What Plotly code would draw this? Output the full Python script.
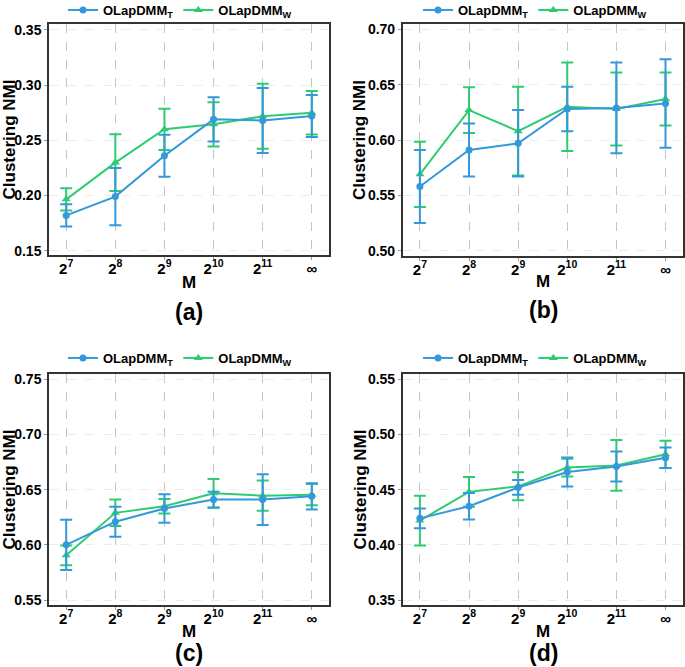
import plotly.graph_objects as go

W, H = 685, 667

# ---------------- data ----------------
x_labels = ["2<sup>7</sup>", "2<sup>8</sup>", "2<sup>9</sup>", "2<sup>10</sup>", "2<sup>11</sup>", "∞"]
x_pos = [0, 1, 2, 3, 4, 5]

series_names = ["OLapDMM<sub>T</sub>", "OLapDMM<sub>W</sub>"]

a_T_mean = [0.182, 0.199, 0.236, 0.269, 0.268, 0.272]
a_T_sd = [0.010, 0.026, 0.019, 0.020, 0.0295, 0.019]
a_W_mean = [0.1965, 0.2298, 0.260, 0.2645, 0.2718, 0.275]
a_W_sd = [0.010, 0.0258, 0.0187, 0.020, 0.0295, 0.0197]

b_T_mean = [0.558, 0.591, 0.597, 0.628, 0.629, 0.633]
b_T_sd = [0.033, 0.024, 0.030, 0.020, 0.041, 0.040]
b_W_mean = [0.569, 0.627, 0.608, 0.630, 0.628, 0.637]
b_W_sd = [0.0295, 0.0207, 0.040, 0.040, 0.033, 0.024]

c_T_mean = [0.600, 0.621, 0.633, 0.641, 0.641, 0.644]
c_T_sd = [0.0228, 0.0136, 0.0129, 0.0072, 0.023, 0.0119]
c_W_mean = [0.5905, 0.629, 0.635, 0.6467, 0.6446, 0.6455]
c_W_sd = [0.009, 0.012, 0.0065, 0.013, 0.0137, 0.0097]

d_T_mean = [0.424, 0.435, 0.452, 0.466, 0.471, 0.479]
d_T_sd = [0.009, 0.012, 0.0067, 0.0131, 0.0135, 0.0093]
d_W_mean = [0.422, 0.448, 0.453, 0.470, 0.472, 0.482]
d_W_sd = [0.0225, 0.0134, 0.0127, 0.008, 0.023, 0.0123]

y_ticks_a = [0.15, 0.20, 0.25, 0.30, 0.35]
y_ticks_b = [0.50, 0.55, 0.60, 0.65, 0.70]
y_ticks_c = [0.55, 0.60, 0.65, 0.70, 0.75]
y_ticks_d = [0.35, 0.40, 0.45, 0.50, 0.55]

panel_labels = ["(a)", "(b)", "(c)", "(d)"]
y_title = "Clustering NMI"
x_title = "M"

# ---------------- styling ----------------
BLUE = "#3498db"
GREEN = "#2ecc71"
FONT = "Liberation Sans, Arial, sans-serif"


def px_x(p):
    return p / W


def px_y(p):
    return 1 - p / H


panels = [
    dict(T=(a_T_mean, a_T_sd), Wd=(a_W_mean, a_W_sd), yt=y_ticks_a, yr=[0.1461, 0.3554],
         xd=(49, 329), yd=(24, 255), leg=(180, 10), ytx=9, mx=(189, 282), lab=(189, 312)),
    dict(T=(b_T_mean, b_T_sd), Wd=(b_W_mean, b_W_sd), yt=y_ticks_b, yr=[0.4952, 0.7048],
         xd=(402.7, 682.7), yd=(24, 256), leg=(535, 10), ytx=360, mx=(543, 281), lab=(543, 310)),
    dict(T=(c_T_mean, c_T_sd), Wd=(c_W_mean, c_W_sd), yt=y_ticks_c, yr=[0.5455, 0.7548],
         xd=(49, 329), yd=(374, 605), leg=(180, 358), ytx=9, mx=(189, 631), lab=(189, None)),
    dict(T=(d_T_mean, d_T_sd), Wd=(d_W_mean, d_W_sd), yt=y_ticks_d, yr=[0.3455, 0.5548],
         xd=(402.7, 682.7), yd=(374, 605), leg=(535, 358), ytx=360, mx=(543, 631), lab=(543, None)),
]

fig = go.Figure()
layout = dict(
    width=W, height=H, autosize=False,
    margin=dict(l=0, r=0, t=0, b=0, autoexpand=False),
    paper_bgcolor="white", plot_bgcolor="white",
    font=dict(family=FONT, color="black"),
    showlegend=True,
)
annotations = []

for i, p in enumerate(panels):
    k = "" if i == 0 else str(i + 1)
    xa, ya, lg = "x" + k, "y" + k, "legend" + k
    # W first so T draws on top; legend rank keeps T first
    for name, (m, s), col, sym, size, rank in [
        (series_names[1], p["Wd"], GREEN, "triangle-up", 8, 2),
        (series_names[0], p["T"], BLUE, "circle", 7, 1),
    ]:
        fig.add_trace(go.Scatter(
            x=x_pos, y=m, name=name, mode="lines+markers",
            line=dict(color=col, width=2),
            marker=dict(color=col, symbol=sym, size=size),
            error_y=dict(type="data", array=s, visible=True, color=col, thickness=2, width=6),
            xaxis=xa, yaxis=ya, legend=lg, legendrank=rank,
        ))
    layout["xaxis" + k] = dict(
        domain=[px_x(p["xd"][0]), px_x(p["xd"][1])], anchor=ya,
        range=[-0.35, 5.35], tickvals=x_pos, ticktext=x_labels,
        showgrid=True, gridcolor="#c4c4c4", griddash="dash", gridwidth=1,
        showline=True, linecolor="#333333", linewidth=1.5, mirror=True,
        ticks="outside", ticklen=3, tickcolor="#999999",
        ticklabelstandoff=-4,
        tickfont=dict(family=FONT, size=15, color="black", weight="bold"),
        zeroline=False, fixedrange=True,
    )
    layout["yaxis" + k] = dict(
        domain=[px_y(p["yd"][1]), px_y(p["yd"][0])], anchor=xa,
        range=p["yr"], tickvals=p["yt"], tickformat=".2f",
        showgrid=True, gridcolor="#ececec", griddash="dash", gridwidth=1,
        showline=True, linecolor="#333333", linewidth=1.5, mirror=True,
        ticks="outside", ticklen=3, tickcolor="#999999",
        tickfont=dict(family=FONT, size=14, color="black", weight="bold"),
        zeroline=False, fixedrange=True,
    )
    layout[lg] = dict(
        orientation="h", x=px_x(p["leg"][0]), y=px_y(p["leg"][1]),
        xanchor="center", yanchor="middle", bgcolor="rgba(0,0,0,0)",
        font=dict(family=FONT, size=13, color="black", weight="bold"),
        itemwidth=30, traceorder="normal",
    )
    annotations.append(dict(
        text=y_title, x=px_x(p["ytx"]), y=px_y((p["yd"][0] + p["yd"][1]) / 2),
        xref="paper", yref="paper", textangle=-90, showarrow=False,
        xanchor="center", yanchor="middle",
        font=dict(family=FONT, size=17, color="black", weight="bold"),
    ))
    annotations.append(dict(
        text=x_title, x=px_x(p["mx"][0]), y=px_y(p["mx"][1]),
        xref="paper", yref="paper", showarrow=False,
        xanchor="center", yanchor="middle",
        font=dict(family=FONT, size=17, color="black", weight="bold"),
    ))
    if p["lab"][1] is None:
        lab_pos = dict(y=0, yanchor="bottom")
    else:
        lab_pos = dict(y=px_y(p["lab"][1]), yanchor="middle")
    annotations.append(dict(
        text=panel_labels[i], x=px_x(p["lab"][0]),
        xref="paper", yref="paper", showarrow=False, xanchor="center", borderpad=0,
        font=dict(family=FONT, size=23, color="black", weight="bold"),
        **lab_pos,
    ))

layout["annotations"] = annotations
fig.update_layout(**layout)
fig.write_html(
    "out.html",
    config={"displayModeBar": False},
    post_script="document.body.style.margin='0';document.body.style.overflow='hidden';",
)
